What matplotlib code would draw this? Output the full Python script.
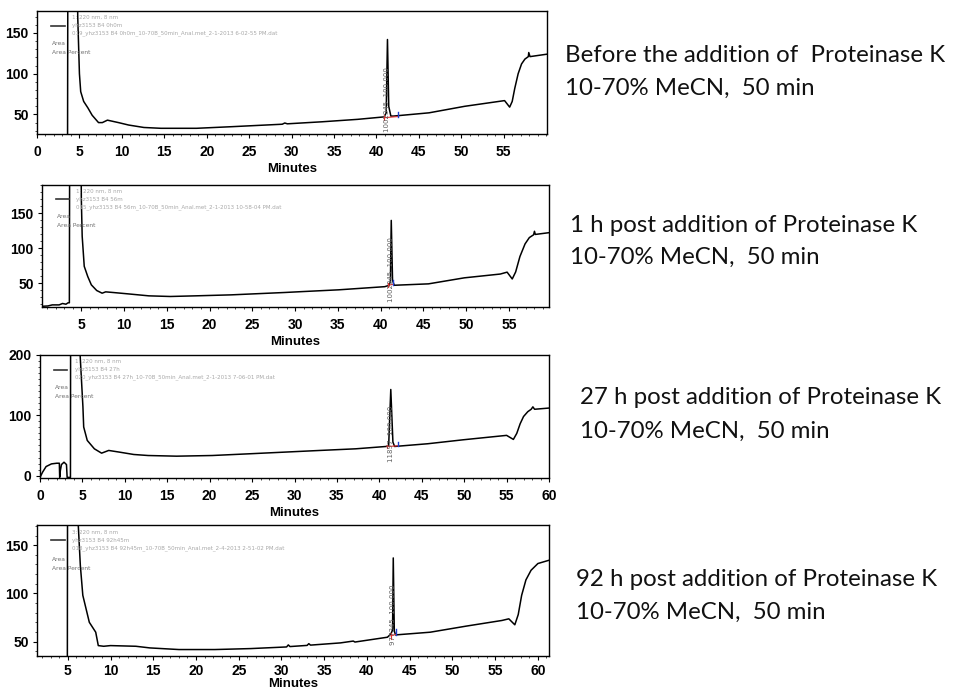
import matplotlib
matplotlib.use("Agg")
import matplotlib.pyplot as plt
from matplotlib.ticker import MultipleLocator

# ---- data (time in min, absorbance mAU) ----
t1 = [0, 3.6, 3.66, 4.6, 4.8, 5.0, 5.15, 5.5, 6.0, 6.5,
      7.25, 7.7, 8.3, 9.6, 10.8, 12.6, 14.6, 18.8, 23.0, 28.9,
      29.2, 29.5, 33.6, 37.8, 40.9, 41.15, 41.3, 41.45, 41.7, 42.0,
      46.2, 50.4, 55.1, 55.7, 56.0, 56.3, 56.7, 57.1, 57.5, 57.9,
      57.95, 58.1, 60.1]
a1 = [10, 10, 400, 400, 170, 100, 78, 66, 58, 49,
      40, 40, 43, 40, 37, 34, 33, 33, 35, 38,
      39.5, 38.5, 41, 44, 47, 52, 142, 60, 48, 48,
      52, 60, 67, 59, 66, 82, 100, 112, 118, 121,
      126, 121, 124]

t2 = [0.4, 1.1, 1.6, 2.4, 2.8, 3.2, 3.45, 3.6, 3.66, 4.9,
      5.0, 5.1, 5.34, 5.75, 6.17, 6.8, 7.43, 7.85, 8.7, 10.4,
      12.9, 15.4, 18.3, 22.5, 28.8, 30.9, 35.1, 40.5, 41.0, 41.15,
      41.25, 41.4, 41.6, 45.6, 49.8, 54.0, 54.8, 55.4, 55.8, 56.3,
      56.9, 57.4, 57.9, 58.0, 58.1, 59.7]
a2 = [17, 17.5, 19, 19, 21, 20, 22, 22, 400, 400,
      170, 117, 74, 59.5, 47.6, 39.5, 35.7, 37.6, 36.7, 34.8,
      31.9, 31, 31.9, 33.3, 36.7, 38, 40.5, 45, 47, 53,
      139.5, 54, 47, 49, 57.6, 63, 65.7, 56, 66, 88,
      106, 115, 119, 124, 119.5, 122]

t3 = [0, 0.3, 0.72, 1.35, 1.98, 2.28, 2.32, 2.4, 2.53, 2.83,
      3.12, 3.2, 3.46, 3.59, 3.62, 4.6, 4.73, 5.06, 5.15, 5.57,
      6.41, 7.26, 8.1, 9.37, 11.05, 12.74, 16.1, 20.3, 24.6, 28.8,
      33.0, 37.2, 40.8, 41.1, 41.35, 41.6, 41.8, 45.7, 49.9, 55.0,
      55.8, 56.2, 56.6, 57.0, 57.5, 57.9, 58.1, 58.3, 60.0]
a3 = [-3, 5.6, 15, 19.4, 20.5, 20.5, -3, 8.3, 18.3, 22.2,
      18.3, -3, -3, -3, 400, 400, 200, 114, 80.6, 58.3,
      44.4, 37.2, 41.7, 38.9, 35, 33.3, 32.2, 33.3, 36.1, 38.9,
      41.7, 44.4, 48.3, 50, 142.8, 55.6, 48.3, 52.8, 59.4, 66.7,
      60, 70, 86, 98, 106, 110, 114, 110, 112]

t4 = [1.4, 4.95, 5.0, 6.0, 6.17, 6.47, 6.76, 7.52, 8.27, 8.57,
      9.2, 10.0, 12.97, 14.6, 18.0, 22.2, 26.4, 30.6, 30.8, 31.0,
      33.0, 33.2, 33.4, 36.9, 38.4, 38.6, 42.4, 42.8, 43.0, 43.08,
      43.2, 43.35, 47.4, 51.6, 55.8, 56.6, 57.3, 57.7, 58.1, 58.6,
      59.2, 60.0, 61.3]
a4 = [20, 20, 400, 400, 181, 129, 98, 70, 59.7, 45.8,
      45.1, 45.8, 45.1, 43.4, 41.7, 41.7, 42.7, 44.4, 46.5, 44.8,
      46, 47.8, 46.3, 48.6, 50.5, 49.5, 54.5, 57.9, 62, 136.8,
      61, 56.9, 59.7, 66, 71.9, 73.6, 67.4, 78, 98, 114,
      124, 131, 134.4]

times = [t1, t2, t3, t4]
signals = [a1, a2, a3, a4]

# main peak and its integration marks: retention time, start, end, baseline level
peak_times = [41.3, 41.25, 41.35, 43.08]
int_start = [40.9, 40.9, 40.9, 42.8]
int_end = [42.6, 41.5, 42.2, 43.4]
int_base = [46, 47, 48, 56]

xlims = [(0, 60.1), (0.4, 59.7), (0, 60), (1.4, 61.3)]
ylims = [(26, 177), (16, 190), (-4, 200), (35, 171)]
xticks = [list(range(0, 56, 5)), list(range(5, 56, 5)),
          list(range(0, 61, 5)), list(range(5, 61, 5))]
yticks = [[50, 100, 150], [50, 100, 150], [0, 100, 200], [50, 100, 150]]

channel = ["1: 220 nm, 8 nm", "1: 220 nm, 8 nm", "1: 220 nm, 8 nm", "3: 220 nm, 8 nm"]
sample = ["yhz3153 B4 0h0m", "yhz3153 B4 56m", "yhz3153 B4 27h", "yhz3153 B4 92h45m"]
files = ["019_yhz3153 B4 0h0m_10-70B_50min_Anal.met_2-1-2013 6-02-55 PM.dat",
         "015_yhz3153 B4 56m_10-70B_50min_Anal.met_2-1-2013 10-58-04 PM.dat",
         "020_yhz3153 B4 27h_10-70B_50min_Anal.met_2-1-2013 7-06-01 PM.dat",
         "018_yhz3153 B4 92h45m_10-70B_50min_Anal.met_2-4-2013 2-51-02 PM.dat"]
peak_labels = ["1002345  100.000", "1002345  100.000", "11897  100.000", "977345  100.000"]

titles = ["Before the addition of  Proteinase K",
          "1 h post addition of Proteinase K",
          "27 h post addition of Proteinase K",
          "92 h post addition of Proteinase K"]
subtitle = "10-70% MeCN,  50 min"

W, H = 957, 694
# axes boxes in pixels: left, right, top, bottom
boxes = [(37, 547, 11, 134), (42, 549, 185, 307), (40, 549, 355, 478), (37, 549, 525, 656)]
text_pos = [(565, 55, 88), (570, 225, 257), (580, 398, 431), (576, 580, 612)]
tick_pads = [5, 5, 5, 3]
label_pads = [3, 3, 3, 0]

fig = plt.figure(figsize=(W / 100, H / 100), dpi=100)
tick_font = dict(family="Liberation Sans", weight="bold", size=10)

for i in range(4):
    l, r, top, bot = boxes[i]
    ax = fig.add_axes([l / W, 1 - bot / H, (r - l) / W, (bot - top) / H])
    ax.plot(times[i], signals[i], color="black", lw=1.1)
    # integration baseline marks
    ax.plot([int_start[i], int_end[i]], [int_base[i], int_base[i] + 1.5], color="#e03030", lw=0.8)
    ax.plot([int_start[i], int_start[i]], [int_base[i] - 3, int_base[i] + 3], color="#e03030", lw=0.8)
    ax.plot([int_end[i], int_end[i]], [int_base[i] + 1, int_base[i] + 7], color="#2040d0", lw=1.0)
    ax.text(peak_times[i], int_base[i] + 22, peak_labels[i], rotation=90,
            fontsize=5, color="#606060", ha="center", va="center", family="DejaVu Sans")

    ax.set_xlim(*xlims[i])
    ax.set_ylim(*ylims[i])
    ax.set_xticks(xticks[i])
    ax.set_yticks(yticks[i])
    ax.xaxis.set_minor_locator(MultipleLocator(1))
    ax.yaxis.set_minor_locator(MultipleLocator(10))
    ax.tick_params(axis="x", which="major", length=3, width=0.8, pad=tick_pads[i])
    ax.tick_params(axis="y", which="major", length=3, width=0.8, pad=3)
    ax.tick_params(axis="both", which="minor", length=1.5, width=0.5)
    for lab in ax.get_xticklabels() + ax.get_yticklabels():
        lab.set_fontproperties(tick_font)
    ax.set_xlabel("Minutes", fontsize=9.5, fontweight="bold", family="Liberation Sans",
                  labelpad=label_pads[i])
    for sp in ax.spines.values():
        sp.set_linewidth(1.0)

    # instrument legend in upper left
    ax.plot([0.028, 0.054], [0.882, 0.882], transform=ax.transAxes, color="#333333", lw=1.2)
    for j, s in enumerate([channel[i], sample[i], files[i]]):
        ax.text(0.068, 0.945 - j * 0.062, s, transform=ax.transAxes, fontsize=4,
                color="#a8a8a8", va="center", family="DejaVu Sans")
    ax.text(0.030, 0.738, "Area", transform=ax.transAxes, fontsize=4.3, color="#707070",
            va="center", family="DejaVu Sans")
    ax.text(0.030, 0.665, "Area Percent", transform=ax.transAxes, fontsize=4.3, color="#707070",
            va="center", family="DejaVu Sans")

    x0, y1, y2 = text_pos[i]
    fig.text(x0 / W, 1 - y1 / H, titles[i], fontsize=17.3, family="Lato", color="#111111", va="center")
    fig.text(x0 / W, 1 - y2 / H, subtitle, fontsize=17.3, family="Lato", color="#111111", va="center")

fig.savefig("out.png", dpi=100)
